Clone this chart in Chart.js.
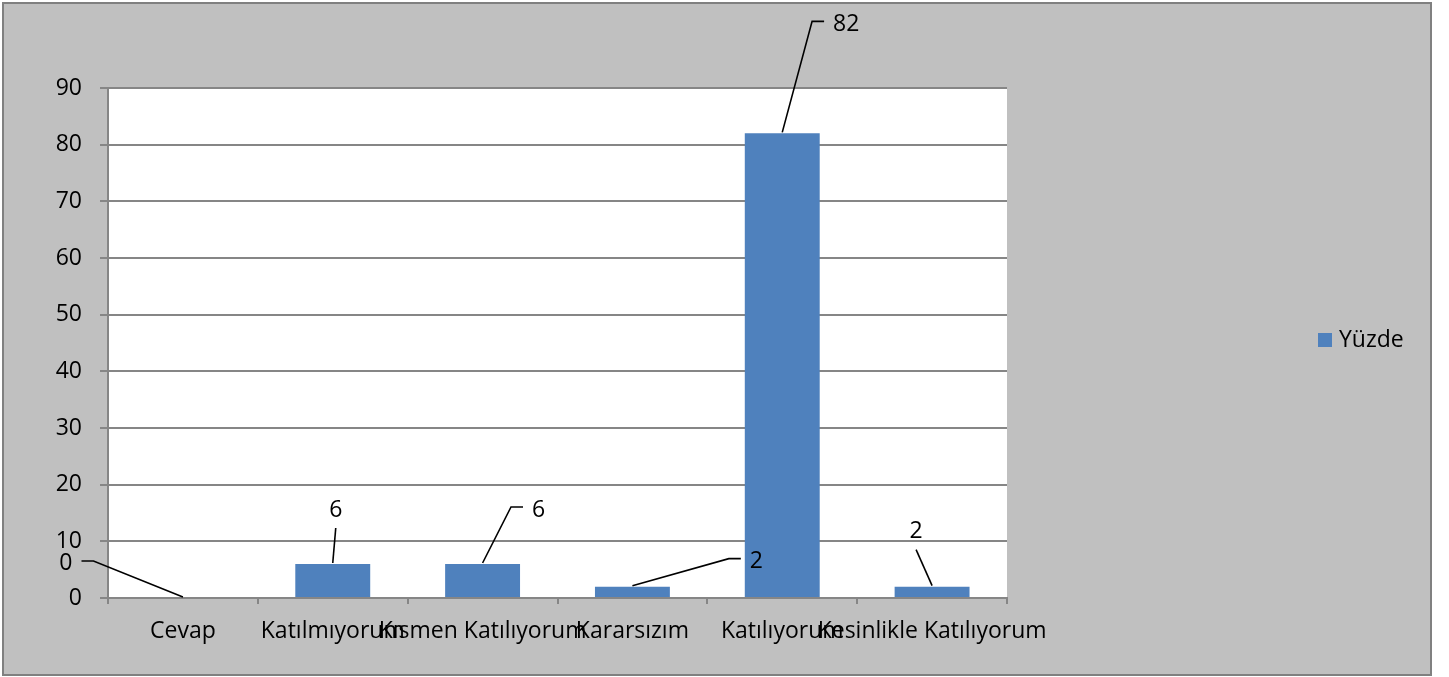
<!DOCTYPE html>
<html><head><meta charset="utf-8">
<script src="https://cdn.jsdelivr.net/npm/chart.js@4.4.1/dist/chart.umd.min.js"></script>
<style>html,body{margin:0;padding:0;background:#fff;overflow:hidden}#wrap{width:1449px;height:677px;position:relative}</style>
</head><body><div id="wrap"><canvas id="c" width="1449" height="677"></canvas></div>
<script>
const categories = ["Cevap", "Katılmıyorum", "Kısmen Katılıyorum", "Kararsızım", "Katılıyorum", "Kesinlikle Katılıyorum"];
const seriesName = "Yüzde";
const yuzde = [0, 6, 6, 2, 82, 2];
const yTickValues = [0, 10, 20, 30, 40, 50, 60, 70, 80, 90];

// data-label placement relative to the bar's top centre (style only)
const labelPlacement = [
  {dx: -117, dy: -34, elbow: 'right'},
  {dx: 3, dy: -53, elbow: 'none'},
  {dx: 56, dy: -53, elbow: 'left'},
  {dx: 124, dy: -24, elbow: 'left'},
  {dx: 64, dy: -108, elbow: 'left'},
  {dx: -16, dy: -54, elbow: 'none'}
];

const FONT = "'Open Sans', 'Noto Sans', sans-serif";
const FSIZE = 23;
const BAR = '#4F81BD';
const GRID = '#868686';

const bgPlugin = {
  id: 'bg',
  beforeDraw(chart) {
    const ctx = chart.ctx, a = chart.chartArea;
    ctx.save();
    ctx.fillStyle = '#ffffff';
    ctx.fillRect(0, 0, chart.width, chart.height);
    ctx.fillStyle = '#C0C0C0';
    ctx.fillRect(2, 2, 1430, 674);
    ctx.strokeStyle = '#808080';
    ctx.lineWidth = 2;
    ctx.strokeRect(3, 3, 1428, 672);
    ctx.fillStyle = '#ffffff';
    ctx.fillRect(a.left, a.top, a.right - a.left, a.bottom - a.top);
    ctx.restore();
  }
};

const labelPlugin = {
  id: 'leaderLabels',
  afterDatasetsDraw(chart) {
    const ctx = chart.ctx;
    const meta = chart.getDatasetMeta(0);
    const ds = chart.data.datasets[0];
    ctx.save();
    ctx.font = FSIZE + 'px ' + FONT;
    ctx.textAlign = 'center';
    ctx.textBaseline = 'middle';
    ctx.strokeStyle = '#000';
    ctx.fillStyle = '#000';
    ctx.lineWidth = 1.6;
    meta.data.forEach((el, i) => {
      const p = labelPlacement[i];
      const ax = el.x, ay = el.y - 1;
      const lx = ax + p.dx, ly = ay + p.dy;
      const txt = String(ds.data[i]);
      const w = ctx.measureText(txt).width;
      ctx.beginPath();
      if (p.elbow === 'left') {
        const ex = lx - w / 2 - 9, ey = ly - 3;
        ctx.moveTo(ex, ey); ctx.lineTo(ex - 12, ey); ctx.lineTo(ax, ay);
      } else if (p.elbow === 'right') {
        const ex = lx + w / 2 + 9, ey = ly - 2;
        ctx.moveTo(ex, ey); ctx.lineTo(ex + 12, ey); ctx.lineTo(ax, ay);
      } else {
        ctx.moveTo(lx, ly + 18); ctx.lineTo(ax, ay);
      }
      ctx.stroke();
      ctx.fillText(txt, lx, ly);
    });
    ctx.restore();
  }
};

const legendPlugin = {
  id: 'sideLegend',
  afterDraw(chart) {
    const ctx = chart.ctx;
    const ds = chart.data.datasets[0];
    ctx.save();
    ctx.fillStyle = ds.backgroundColor;
    ctx.fillRect(1318, 333, 14, 14);
    ctx.fillStyle = '#000';
    ctx.font = FSIZE + 'px ' + FONT;
    ctx.textAlign = 'left';
    ctx.textBaseline = 'middle';
    ctx.fillText(ds.label, 1339, 340);
    ctx.restore();
  }
};

new Chart(document.getElementById('c'), {
  type: 'bar',
  data: {
    labels: categories,
    datasets: [{
      label: seriesName,
      data: yuzde,
      backgroundColor: BAR,
      borderWidth: 0,
      barPercentage: 0.5,
      categoryPercentage: 1.0
    }]
  },
  options: {
    responsive: false,
    devicePixelRatio: 1,
    animation: false,
    layout: {padding: {left: 0, top: 88, right: 442, bottom: 0}},
    plugins: {legend: {display: false}, tooltip: {enabled: false}, title: {display: false}},
    scales: {
      x: {
        grid: {display: true, drawOnChartArea: false, drawTicks: true, tickLength: 6, color: GRID, lineWidth: 2, offset: true},
        border: {display: true, color: GRID, width: 2},
        ticks: {color: '#000', font: {family: FONT, size: FSIZE}, padding: 14, autoSkip: false, maxRotation: 0, minRotation: 0},
        afterFit(s) { s.height = 79; }
      },
      y: {
        min: 0, max: 90,
        afterBuildTicks(s) { s.ticks = yTickValues.map(v => ({value: v})); },
        grid: {color: GRID, lineWidth: 2, drawTicks: true, tickLength: 8},
        border: {display: true, color: GRID, width: 2},
        ticks: {color: '#000', font: {family: FONT, size: FSIZE}, padding: 18},
        afterFit(s) { s.width = 108; }
      }
    }
  },
  plugins: [bgPlugin, labelPlugin, legendPlugin]
});
</script>
</body></html>
